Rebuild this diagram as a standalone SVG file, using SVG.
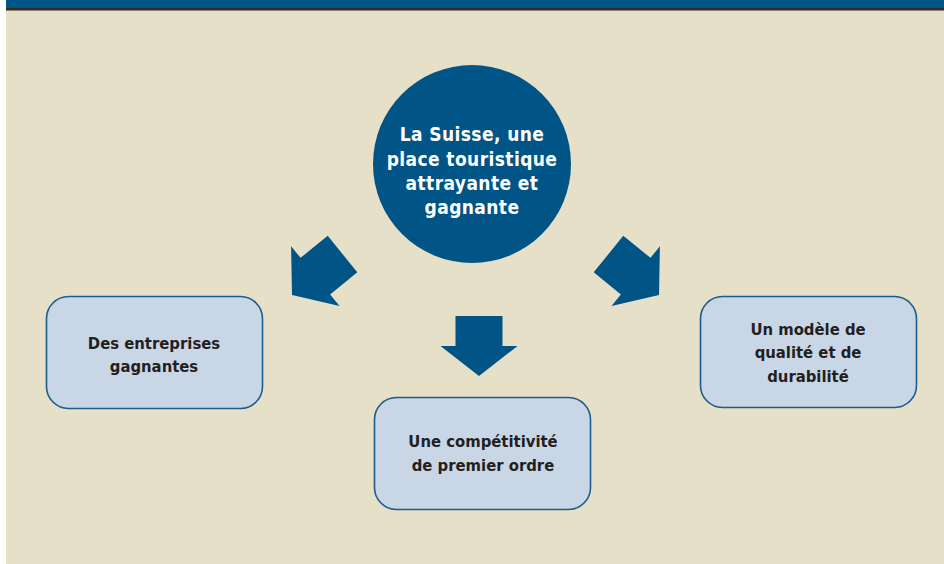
<svg xmlns="http://www.w3.org/2000/svg" width="944" height="564" viewBox="0 0 944 564">
  <style>
    .box { fill: #c9d6e6; stroke: #1d5b8c; stroke-width: 1.6; }
    .btxt { font-family: "DejaVu Sans Condensed", "DejaVu Sans", sans-serif; font-stretch: condensed; font-weight: bold; font-size: 16.5px; fill: #231f20; text-anchor: middle; }
    .ctxt { font-family: "DejaVu Sans Condensed", "DejaVu Sans", sans-serif; font-stretch: condensed; font-weight: bold; font-size: 19px; fill: #ffffff; text-anchor: middle; letter-spacing: 0.4px; }
    .arrow { fill: #005486; }
  </style>
  <defs>
    <polygon id="arr" points="-23.5,-60 23.5,-60 23.5,-30 38.5,-30 0,0 -38.5,-30 -23.5,-30"/>
    <polygon id="arrd" points="-23.5,-65 23.5,-65 23.5,-30 38.5,-30 0,0 -38.5,-30 -23.5,-30"/>
  </defs>
  <rect x="0" y="0" width="944" height="564" fill="#ffffff"/>
  <rect x="6" y="0" width="938" height="564" fill="#e6e0c8"/>
  <rect x="6" y="0" width="938" height="8.5" fill="#005588"/>
  <rect x="6" y="8" width="938" height="2.5" fill="#332b26"/>

  <g id="center">
    <circle cx="472" cy="164" r="99" fill="#005486"/>
    <text class="ctxt" x="472" y="141">La Suisse, une</text>
    <text class="ctxt" x="472" y="166">place touristique</text>
    <text class="ctxt" x="472" y="190">attrayante et</text>
    <text class="ctxt" x="472" y="214">gagnante</text>
  </g>

  <g id="connectors">
    <use href="#arrd" class="arrow" transform="translate(292,295) rotate(51)"/>
    <use href="#arr" class="arrow" transform="translate(479,376)"/>
    <use href="#arrd" class="arrow" transform="translate(659,295) rotate(-51)"/>
  </g>

  <g id="left">
    <rect class="box" x="46.5" y="296.5" width="216" height="112" rx="22"/>
    <text class="btxt" x="154" y="349">Des entreprises</text>
    <text class="btxt" x="154" y="372">gagnantes</text>
  </g>

  <g id="bottom">
    <rect class="box" x="374.5" y="397.5" width="216" height="112" rx="22"/>
    <text class="btxt" x="483" y="447">Une compétitivité</text>
    <text class="btxt" x="483" y="471">de premier ordre</text>
  </g>

  <g id="right">
    <rect class="box" x="700.5" y="296.5" width="216" height="111" rx="22"/>
    <text class="btxt" x="808" y="335">Un modèle de</text>
    <text class="btxt" x="808" y="358">qualité et de</text>
    <text class="btxt" x="808" y="382">durabilité</text>
  </g>
</svg>
